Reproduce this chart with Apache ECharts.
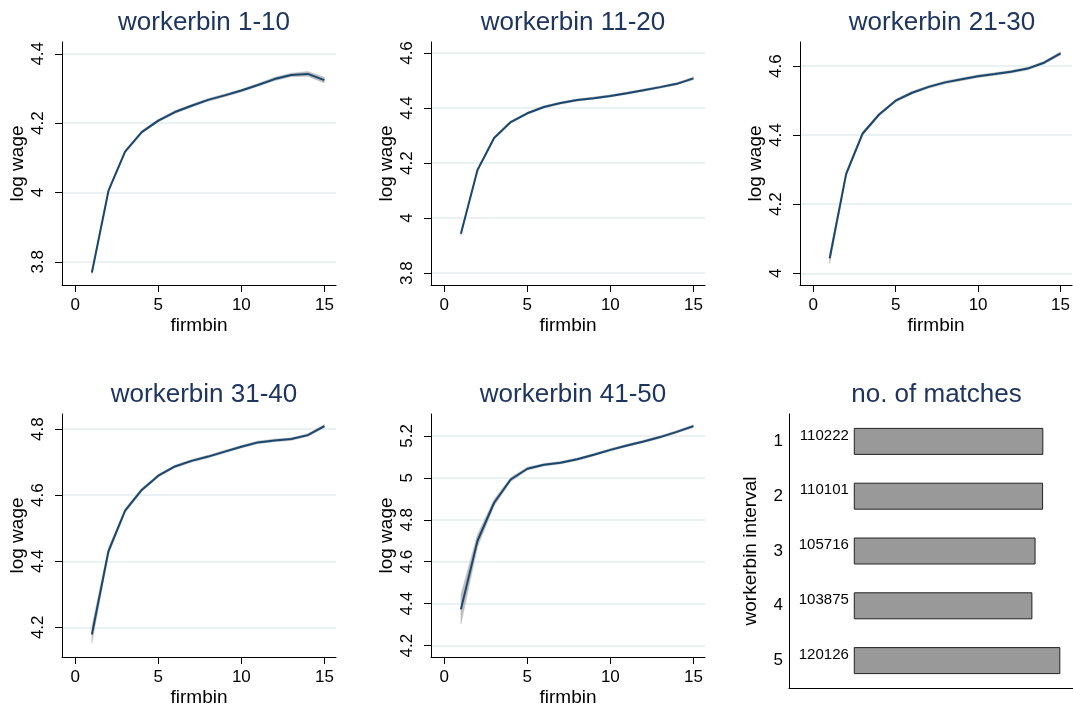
<!DOCTYPE html>
<html>
<head>
<meta charset="utf-8">
<script src="https://cdn.jsdelivr.net/npm/echarts@6/dist/echarts.min.js"></script>
<style>
html,body{margin:0;padding:0;background:#fff;}
#chart{width:1073px;height:708px;}
</style>
</head>
<body>
<div id="chart"></div>
<script>
// ---- data ----
const firmbin = [1,2,3,4,5,6,7,8,9,10,11,12,13,14,15];
const wb1 = [3.769,4.005,4.118,4.174,4.207,4.232,4.250,4.267,4.280,4.294,4.310,4.327,4.339,4.342,4.324];
const wb2 = [3.943,4.175,4.291,4.349,4.381,4.404,4.418,4.429,4.436,4.444,4.454,4.465,4.476,4.488,4.508];
const wb3 = [4.043,4.288,4.405,4.460,4.500,4.523,4.540,4.553,4.562,4.571,4.577,4.584,4.593,4.610,4.637];
const wb4 = [4.178,4.431,4.553,4.616,4.659,4.687,4.704,4.717,4.732,4.747,4.760,4.766,4.770,4.782,4.809];
const wb5 = [4.373,4.700,4.881,4.992,5.043,5.062,5.072,5.088,5.110,5.133,5.154,5.173,5.194,5.219,5.246];
// confidence-band half widths
const ci1 = [0.005,0.004,0.004,0.004,0.004,0.004,0.004,0.004,0.004,0.004,0.004,0.005,0.005,0.007,0.008];
const ci2 = [0.006,0.004,0.004,0.004,0.004,0.004,0.004,0.004,0.004,0.004,0.004,0.004,0.004,0.004,0.005];
const ci3 = [0.015,0.007,0.005,0.004,0.004,0.004,0.004,0.004,0.004,0.004,0.004,0.004,0.004,0.004,0.005];
const ci4 = [0.025,0.010,0.006,0.005,0.004,0.004,0.004,0.004,0.004,0.004,0.004,0.004,0.004,0.004,0.005];
const ci5 = [0.070,0.030,0.015,0.010,0.007,0.006,0.006,0.006,0.006,0.006,0.006,0.006,0.006,0.006,0.007];
const panelTitles = ['workerbin 1-10','workerbin 11-20','workerbin 21-30','workerbin 31-40','workerbin 41-50'];
const xTicks = [0,5,10,15];
const yTicks1 = [3.8,4,4.2,4.4];
const yTicks2 = [3.8,4,4.2,4.4,4.6];
const yTicks3 = [4,4.2,4.4,4.6];
const yTicks4 = [4.2,4.4,4.6,4.8];
const yTicks5 = [4.2,4.4,4.6,4.8,5,5.2];
const intervals = ['1','2','3','4','5'];
const matches = [110222,110101,105716,103875,120126];
const barTitle = 'no. of matches';

// ---- layout ----
const FONT = 'Liberation Sans, Arial, sans-serif';
const series = [wb1,wb2,wb3,wb4,wb5];
const cis = [ci1,ci2,ci3,ci4,ci5];
const yTicks = [yTicks1,yTicks2,yTicks3,yTicks4,yTicks5];
const yRanges = [[3.733,4.434],[3.757,4.640],[3.966,4.670],[4.110,4.846],[4.146,5.304]];
const grids = [
  {left:62, top:42, width:274, height:243},
  {left:431, top:42, width:274, height:243},
  {left:800, top:42, width:274, height:243},
  {left:62, top:414, width:274, height:243},
  {left:431, top:414, width:274, height:243},
  {left:789, top:414, width:285, height:274}
];
const LINE = '#1a476f';
const TITLE = '#1e3560';
const AX = '#000';
const BAND = '#bdbdbd';

const option = {
  animation:false,
  backgroundColor:'#fff',
  textStyle:{fontFamily:FONT},
  title:[],
  grid:grids,
  xAxis:[], yAxis:[], series:[]
};

function bandRenderer(vals, ci){
  return function(params, api){
    const pts = [];
    for (let k=0;k<firmbin.length;k++) pts.push(api.coord([firmbin[k], vals[k]+ci[k]]));
    for (let k=firmbin.length-1;k>=0;k--) pts.push(api.coord([firmbin[k], vals[k]-ci[k]]));
    return {type:'polygon', shape:{points:pts}, style:{fill:BAND, stroke:BAND, lineWidth:0.5}};
  };
}

for (let i=0;i<5;i++){
  const g = grids[i];
  option.title.push({
    text:panelTitles[i], left:g.left+g.width/2, top:g.top-37, textAlign:'center',
    textStyle:{fontFamily:FONT,fontSize:26,fontWeight:'normal',color:TITLE}
  });
  option.xAxis.push({
    gridIndex:i, type:'value', min:-0.8, max:15.7,
    name:'firmbin', nameLocation:'middle', nameGap:31,
    nameTextStyle:{fontFamily:FONT,fontSize:19,color:AX},
    axisLine:{show:true,onZero:false,lineStyle:{color:AX,width:1}},
    axisTick:{show:true,length:7,customValues:xTicks,lineStyle:{color:AX}},
    axisLabel:{customValues:xTicks,fontFamily:FONT,fontSize:17,color:AX,margin:12},
    splitLine:{show:false}
  });
  option.yAxis.push({
    gridIndex:i, type:'value', min:yRanges[i][0], max:yRanges[i][1],
    name:'log wage', nameLocation:'middle', nameGap:35, nameRotate:90,
    nameTextStyle:{fontFamily:FONT,fontSize:19,color:AX},
    axisLine:{show:true,onZero:false,lineStyle:{color:AX,width:1}},
    axisTick:{show:true,length:7,customValues:yTicks[i],lineStyle:{color:AX}},
    axisLabel:{customValues:yTicks[i],rotate:90,fontFamily:FONT,fontSize:17,color:AX,margin:15},
    splitLine:{show:true,lineStyle:{color:'#e3ecee',width:1.5}}
  });
  const vals = series[i], ci = cis[i];
  option.series.push({
    type:'custom', xAxisIndex:i, yAxisIndex:i, data:[[firmbin[0], vals[0]]],
    itemStyle:{color:BAND},
    renderItem:bandRenderer(vals, ci), silent:true, clip:true, z:1
  });
  option.series.push({
    type:'line', xAxisIndex:i, yAxisIndex:i, data:firmbin.map((x,k)=>[x, vals[k]]),
    symbol:'none', lineStyle:{color:LINE,width:2}, itemStyle:{color:LINE}, z:3
  });
}

// bar panel
const gb = grids[5];
option.title.push({
  text:barTitle, left:gb.left+gb.width/2, top:gb.top-37, textAlign:'center',
  textStyle:{fontFamily:FONT,fontSize:26,fontWeight:'normal',color:TITLE}
});
option.xAxis.push({
  gridIndex:5, type:'value', min:-37700, max:127500,
  axisLine:{show:true,onZero:false,lineStyle:{color:AX,width:1}},
  axisTick:{show:false}, axisLabel:{show:false}, splitLine:{show:false}
});
option.yAxis.push({
  gridIndex:5, type:'category', data:intervals, inverse:true,
  name:'workerbin interval', nameLocation:'middle', nameGap:29, nameRotate:90,
  nameTextStyle:{fontFamily:FONT,fontSize:19,color:AX},
  axisLine:{show:true,onZero:false,lineStyle:{color:AX,width:1}},
  axisTick:{show:false},
  axisLabel:{fontFamily:FONT,fontSize:17,color:AX,margin:6},
  splitLine:{show:false}
});
option.series.push({
  type:'bar', xAxisIndex:5, yAxisIndex:5, data:matches, barWidth:27,
  itemStyle:{color:'#999999',borderColor:'#222',borderWidth:1},
  label:{show:true,position:'left',distance:5,offset:[0,-6],fontFamily:FONT,fontSize:15,color:AX,formatter:'{c}'}
});

const chart = echarts.init(document.getElementById('chart'),null,{renderer:'canvas'});
chart.setOption(option);
</script>
</body>
</html>
